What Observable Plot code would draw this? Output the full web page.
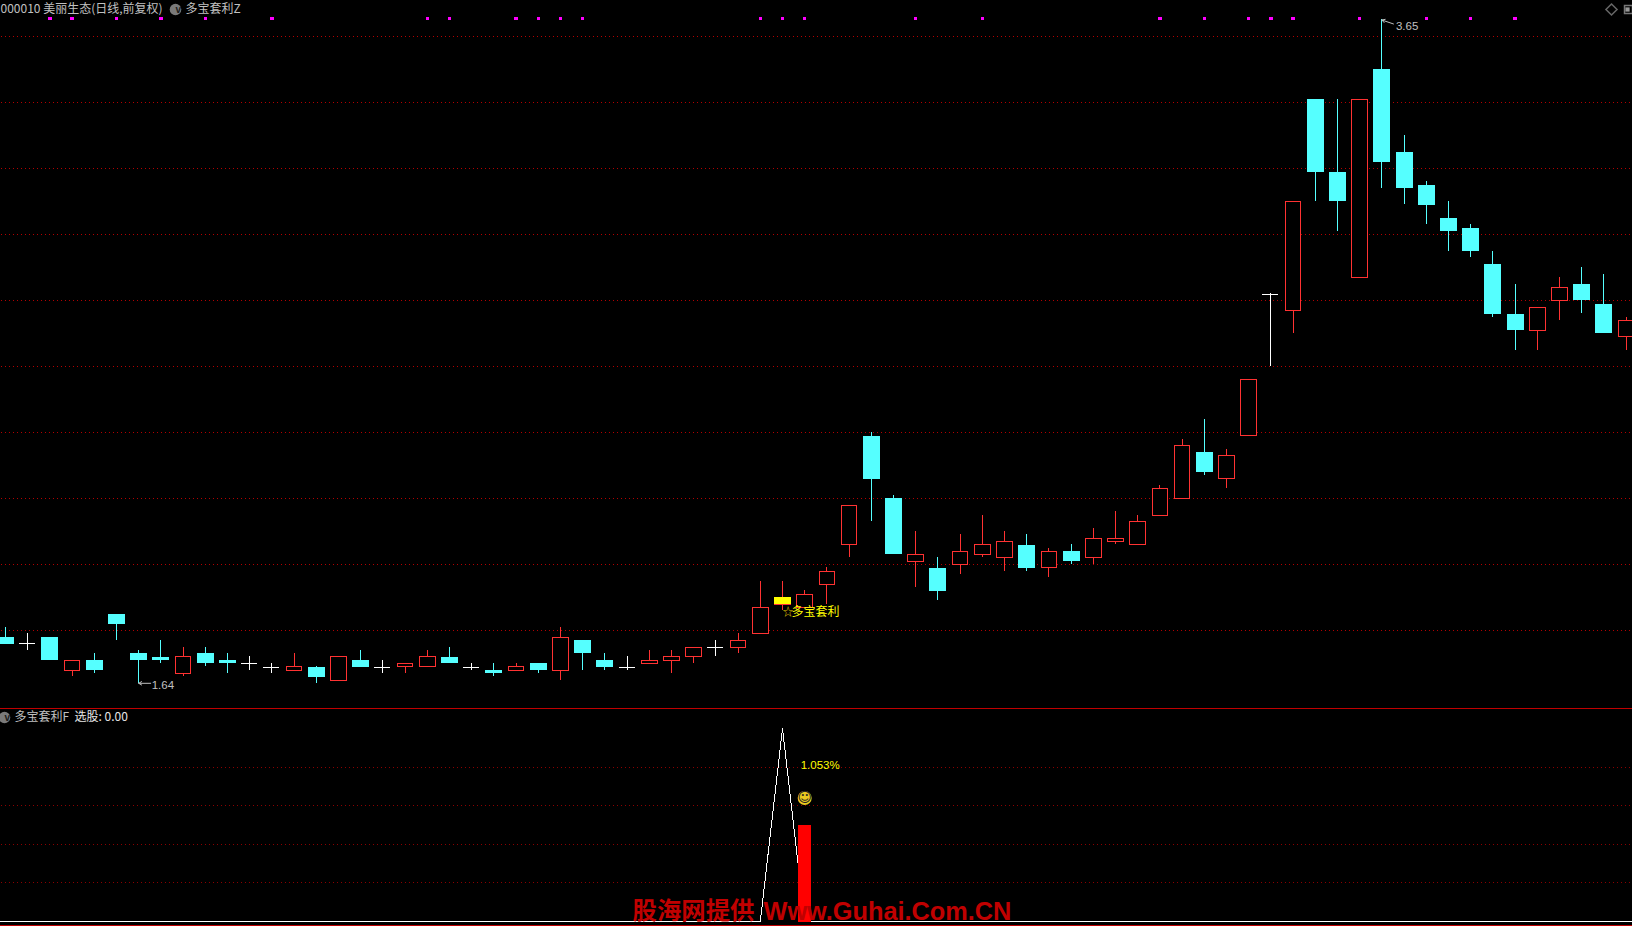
<!DOCTYPE html>
<html lang="zh">
<head>
<meta charset="utf-8">
<title>多宝套利</title>
<script src="https://cdn.jsdelivr.net/npm/d3@7"></script>
<script src="https://cdn.jsdelivr.net/npm/@observablehq/plot@0.6"></script>
<style>
html,body{margin:0;padding:0;background:#000;overflow:hidden}
svg{display:block}
</style>
</head>
<body>
<div id="chart"></div>
<script>
// ---- data ----
const opens  = [1.78,1.76,1.78,1.68,1.71,1.85,1.73,1.72,1.67,1.73,1.71,1.70,1.69,1.68,1.69,1.65,1.71,1.69,1.69,1.69,1.72,1.69,1.68,1.68,1.70,1.68,1.77,1.71,1.69,1.70,1.71,1.72,1.75,1.75,1.79,1.88,1.87,1.94,2.06,2.39,2.20,2.01,1.99,2.00,2.03,2.02,2.06,1.99,2.04,2.02,2.07,2.06,2.15,2.20,2.34,2.26,2.39,2.82,2.77,3.41,3.19,2.87,3.50,3.25,3.15,3.05,3.02,2.91,2.76,2.71,2.80,2.85,2.79,2.69];
const closes = [1.76,1.76,1.71,1.71,1.68,1.82,1.71,1.71,1.72,1.70,1.70,1.70,1.69,1.69,1.66,1.72,1.69,1.69,1.70,1.72,1.70,1.69,1.67,1.69,1.68,1.78,1.73,1.69,1.69,1.71,1.72,1.75,1.75,1.77,1.87,1.90,1.91,1.98,2.18,2.26,2.03,2.03,1.92,2.04,2.06,2.07,1.99,2.04,2.01,2.08,2.08,2.13,2.23,2.36,2.28,2.33,2.56,2.82,3.10,3.19,3.10,3.41,3.22,3.14,3.09,3.01,2.95,2.76,2.71,2.78,2.84,2.80,2.70,2.74];
const highs  = [1.81,1.79,1.78,1.71,1.73,1.85,1.74,1.77,1.75,1.75,1.73,1.72,1.70,1.73,1.69,1.72,1.74,1.71,1.70,1.74,1.75,1.70,1.70,1.70,1.70,1.81,1.77,1.73,1.72,1.74,1.74,1.75,1.77,1.79,1.95,1.95,1.92,1.99,2.18,2.40,2.21,2.10,2.02,2.09,2.15,2.10,2.09,2.05,2.06,2.11,2.16,2.15,2.24,2.38,2.44,2.35,2.56,2.82,3.10,3.41,3.41,3.41,3.65,3.30,3.16,3.10,3.03,2.95,2.85,2.78,2.87,2.90,2.88,2.75];
const lows   = [1.76,1.74,1.71,1.66,1.67,1.77,1.64,1.70,1.66,1.69,1.67,1.68,1.67,1.68,1.64,1.65,1.69,1.67,1.67,1.69,1.70,1.68,1.66,1.68,1.67,1.65,1.68,1.68,1.68,1.70,1.67,1.70,1.72,1.73,1.79,1.86,1.87,1.88,2.02,2.13,2.03,1.93,1.89,1.97,2.02,1.98,1.98,1.96,2.00,2.00,2.06,2.06,2.15,2.20,2.27,2.23,2.39,2.60,2.70,3.10,3.01,2.87,3.14,3.09,3.03,2.95,2.93,2.75,2.65,2.65,2.74,2.76,2.70,2.65];
const priceGrid = [3.6,3.4,3.2,3.0,2.8,2.6,2.4,2.2,2.0,1.8];
const markerIdx = [2,3,5,7,9,12,19,20,23,24,25,26,34,35,36,41,44,52,54,56,57,58,61,64,66,68];
const markerLevel = 3.655;
const signalIdx = [35];
const lowLabel = {i: 6, price: 1.64, text: "1.64"};
const highLabel = {i: 62, price: 3.65, text: "3.65"};
const signalStar = "☆";
const signalName = "多宝套利";
const signalLabelLevel = 1.856;

const selectGrid = [0.8,0.6,0.4,0.2];
const selectIdx = [-1,0,1,2,3,4,5,6,7,8,9,10,11,12,13,14,15,16,17,18,19,20,21,22,23,24,25,26,27,28,29,30,31,32,33,34,35,36,37,38,39,40,41,42,43,44,45,46,47,48,49,50,51,52,53,54,55,56,57,58,59,60,61,62,63,64,65,66,67,68,69,70,71,72,73,74];
const selectVal = [0,0,0,0,0,0,0,0,0,0,0,0,0,0,0,0,0,0,0,0,0,0,0,0,0,0,0,0,0,0,0,0,0,0,0,0,1,0,0,0,0,0,0,0,0,0,0,0,0,0,0,0,0,0,0,0,0,0,0,0,0,0,0,0,0,0,0,0,0,0,0,0,0,0,0,0];
const barIdx = [36];
const barVal = [0.5];
const faceLevel = 0.64;
const pctLevel = 0.81;
const pctText = "1.053%";

const headerMain = "000010 美丽生态(日线,前复权)";
const headerFormula = "多宝套利Z";
const subFormula = "多宝套利F";
const subValue = "选股: 0.00";
const watermarkCn = "股海网提供";
const watermarkEn = "Www.Guhai.Com.CN";

// ---- styles ----
const UP = "#ff3232", DOWN = "#55ffff", FLAT = "#ffffff", SIGNAL = "#ffff00";
const GRAY = "#c0c0c0", GRID = "#b40000", LINE = "#c00000";
const CJK = "'Noto Sans CJK SC','Liberation Sans',sans-serif";
const NUM = "'Liberation Sans','Noto Sans CJK SC',sans-serif";
const crisp = {shapeRendering: "crispEdges"};

const xScale = {domain: [-0.22523, 73.2883], range: [0, 1632], axis: null};

const candles = opens.map((o, i) => ({i, o, c: closes[i], h: highs[i], l: lows[i]}));
const kind = d => d.c > d.o ? UP : d.c < d.o ? DOWN : FLAT;
const ups = candles.filter(d => d.c > d.o);
const downs = candles.filter(d => d.c < d.o);
const flats = candles.filter(d => d.c === d.o);
const signals = candles.filter(d => signalIdx.includes(d.i));
const FILL_HALF = 0.383, OPEN_HALF = 0.355, TICK_HALF = 0.36;

const header = (text, dx, dy, extra = {}) =>
  Plot.text([text], {text: d => d, frameAnchor: "top-left", dx, dy, textAnchor: "start", lineAnchor: "middle",
    fill: GRAY, fontFamily: CJK, fontSize: 12, ...extra});
const badge = (dx, dy) => [
  Plot.dot([0], {frameAnchor: "top-left", dx, dy, r: 5.8, fill: "#7a7a7a"}),
  Plot.text(["v"], {text: d => d, frameAnchor: "top-left", dx, dy, lineAnchor: "middle", fill: "#1c1c1c", fontFamily: NUM, fontSize: 10, fontWeight: "bold"})
];

const main = Plot.plot({
  width: 1632, height: 708, margin: 0,
  style: {background: "#000"},
  x: xScale,
  y: {domain: [1.56364, 3.70909], range: [708, 0], axis: null},
  marks: [
    Plot.ruleY(priceGrid, {stroke: GRID, strokeWidth: 1, strokeDasharray: "1 3", strokeDashoffset: -1, ...crisp}),
    Plot.ruleX(candles, {x: "i", y1: "l", y2: "h", stroke: kind, strokeWidth: 1, ...crisp}),
    Plot.rect(downs, {x1: d => d.i - FILL_HALF, x2: d => d.i + FILL_HALF, y1: "o", y2: "c", dx: 0.5, dy: 0.3, fill: DOWN, ...crisp}),
    Plot.rect(ups, {x1: d => d.i - OPEN_HALF, x2: d => d.i + OPEN_HALF, y1: "o", y2: "c", dx: 0.5, dy: 0.5, fill: "#000", stroke: UP, strokeWidth: 1, ...crisp}),
    Plot.ruleY(flats, {y: "c", x1: d => d.i - TICK_HALF, x2: d => d.i + TICK_HALF, dy: 0.25, stroke: FLAT, strokeWidth: 1, ...crisp}),
    Plot.rect(signals, {x1: d => d.i - FILL_HALF, x2: d => d.i + FILL_HALF, y1: "o", y2: "c", dx: 0.5, dy: 0.3, fill: SIGNAL, ...crisp}),
    Plot.dot(markerIdx, {x: d => d, y: () => markerLevel, symbol: "square", r: 1.9, fill: "#ff00ff", ...crisp}),
    Plot.arrow([lowLabel], {x1: d => d.i + 0.54, x2: "i", y1: "price", y2: "price", stroke: GRAY, strokeWidth: 1, headLength: 5, bend: 0}),
    Plot.arrow([highLabel], {x1: d => d.i + 0.52, x2: "i", y1: d => d.price - 0.012, y2: "price", stroke: GRAY, strokeWidth: 1, headLength: 5, bend: 0}),
    Plot.text([lowLabel], {x: "i", y: "price", text: "text", textAnchor: "start", dx: 13, dy: 2, fill: GRAY, fontFamily: NUM, fontSize: 11.5}),
    Plot.text([highLabel], {x: "i", y: "price", text: "text", textAnchor: "start", dx: 14, dy: 6, fill: GRAY, fontFamily: NUM, fontSize: 11.5}),
    Plot.text(signals, {x: "i", y: () => signalLabelLevel, text: () => signalStar, textAnchor: "start", dx: 0, fill: "#e0c800", fontFamily: "Noto Sans CJK SC", fontSize: 11}),
    Plot.text(signals, {x: "i", y: () => signalLabelLevel, text: () => signalName, textAnchor: "start", dx: 9, fill: SIGNAL, fontFamily: CJK, fontSize: 12}),
    header(headerMain, 0, 9),
    ...badge(175, 9),
    header(headerFormula, 185, 9),
    Plot.dot([0], {frameAnchor: "top-left", dx: 1611, dy: 9, symbol: "diamond2", r: 5, fill: "none", stroke: "#666"}),
    Plot.dot([0], {frameAnchor: "top-left", dx: 1628, dy: 9, symbol: "square", r: 4.5, fill: "#000", stroke: "#777"}),
    Plot.dot([0], {frameAnchor: "top-left", dx: 1627, dy: 9, symbol: "square", r: 2.4, fill: "#999"})
  ]
});

const sub = Plot.plot({
  width: 1632, height: 218, margin: 0,
  style: {background: "#000"},
  x: xScale,
  y: {domain: [-0.02591, 1.10363], range: [218, 0], axis: null},
  marks: [
    Plot.ruleY(selectGrid, {stroke: "#8c0000", strokeWidth: 1, strokeDasharray: "1 3", strokeDashoffset: -1, ...crisp}),
    Plot.frame({anchor: "top", stroke: LINE, ...crisp}),
    Plot.ruleY([-0.0207], {stroke: LINE, ...crisp}),
    Plot.line(selectIdx.map((i, k) => ({i, v: selectVal[k]})), {x: "i", y: "v", stroke: "#fff", strokeWidth: 1, ...crisp}),
    Plot.rect(barIdx.map((i, k) => ({i, v: barVal[k]})), {x1: d => d.i - 0.293, x2: d => d.i + 0.293, y1: () => -0.004, y2: "v", dx: 0.5, dy: 0.5, fill: "#ff0000", ...crisp}),
    Plot.dot(barIdx, {x: d => d, y: () => faceLevel, r: 7, fill: "#ecca20"}),
    Plot.text(barIdx, {x: d => d, y: () => faceLevel, text: () => "☺", fill: "#222", fontFamily: "DejaVu Sans", fontSize: 14}),
    Plot.text(barIdx, {x: d => d, y: () => pctLevel, text: () => pctText, textAnchor: "start", dx: -4, fill: SIGNAL, fontFamily: NUM, fontSize: 11.5}),
    ...badge(4, 9),
    header(subFormula, 14, 9),
    header(subValue, 74, 9, {fill: "#e6e6e6"}),
    Plot.text([watermarkCn], {text: d => d, frameAnchor: "top-left", dx: 632, dy: 203, textAnchor: "start", lineAnchor: "middle",
      fill: "#c00000", fontFamily: CJK, fontWeight: "bold", fontSize: 24.4}),
    Plot.text([watermarkEn], {text: d => d, frameAnchor: "top-left", dx: 763, dy: 203, textAnchor: "start", lineAnchor: "middle",
      fill: "#c00000", fontFamily: NUM, fontWeight: "bold", fontSize: 25.3})
  ]
});

const root = document.getElementById("chart");
root.append(main, sub);
</script>
</body>
</html>
